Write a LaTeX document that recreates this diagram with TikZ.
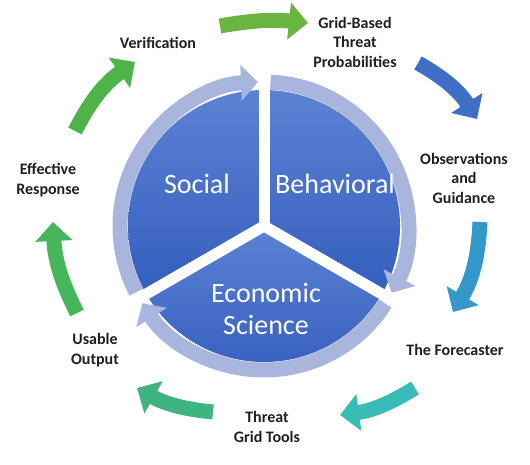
\documentclass[tikz,border=0pt]{standalone}
\usepackage{fontspec}
\setmainfont{Carlito}
\usepackage{xcolor}
\usetikzlibrary{arrows.meta,positioning,calc}

\definecolor{ringblue}{RGB}{168,182,222}
\definecolor{sectop}{RGB}{92,130,212}
\definecolor{secbot}{RGB}{52,94,190}
\definecolor{cycA}{RGB}{106,180,66}
\definecolor{cycB}{RGB}{62,110,198}
\definecolor{cycC}{RGB}{52,152,202}
\definecolor{cycD}{RGB}{58,188,182}
\definecolor{cycE}{RGB}{62,180,128}
\definecolor{cycF}{RGB}{70,182,92}
\definecolor{cycG}{RGB}{78,180,74}

\begin{document}
\begin{tikzpicture}[x=1pt,y=1pt, every node/.style={align=center},
  steplabel/.style={font=\bfseries\fontsize{16}{19.5}\selectfont, text=black!88},
  sectorlabel/.style={font=\fontsize{28}{32}\selectfont, text=white},
  cyclearrow/.style={line width=15pt, -{Triangle[width=36pt,length=19pt]}, bend left=#1},
  ringarrow/.style={line width=15pt, ringblue, -{Triangle[width=35pt,length=17pt]}},
  gapline/.style={white, line width=11pt}]
  \useasboundingbox (0,0) rectangle (530,-465);

  % centre wheel
  \coordinate (c) at (264,-226);
  \foreach \a in {90,210,330}
    \shade[top color=sectop, bottom color=secbot] (c) -- ++(\a:136)
      arc[start angle=\a, delta angle=120, radius=136] -- cycle;
  \foreach \a in {90,210,330}
    \draw[gapline] (c) -- ++(\a:158);
  \foreach \a in {90,210,330}
    \draw[ringarrow] ($(c)+(\a-2.6:144)$)
      arc[start angle=\a-2.6, end angle=\a-117.6, radius=144];

  \node[sectorlabel] (soc) at (197,-184) {Social};
  \node[sectorlabel] (beh) at (335,-184) {Behavioral};
  \node[sectorlabel] (eco) at (266,-309) {Economic\\Science};

  % outer cycle
  \node[steplabel] (ver) at (158,-43) {Verification};
  \node[steplabel] (grid) at (355,-42) {Grid-Based\\Threat\\Probabilities};
  \node[steplabel] (obs) at (464,-178) {Observations\\and\\Guidance};
  \node[steplabel] (fore) at (455,-350) {The Forecaster};
  \node[steplabel] (tools) at (267,-427) {Threat\\Grid Tools};
  \node[steplabel] (usable) at (95,-350) {Usable\\Output};
  \node[steplabel] (eff) at (48,-180) {Effective\\Response};

  \coordinate (t1) at (220,-26);  \coordinate (h1) at (308,-23);
  \coordinate (t2) at (418,-63);  \coordinate (h2) at (477,-119);
  \coordinate (t3) at (480,-222); \coordinate (h3) at (453,-312);
  \coordinate (t4) at (415,-388); \coordinate (h4) at (340,-415);
  \coordinate (t5) at (213,-412); \coordinate (h5) at (137,-388);
  \coordinate (t6) at (77,-313);  \coordinate (h6) at (53,-222);
  \coordinate (t7) at (75,-131);  \coordinate (h7) at (135,-62);

  \draw[cyclearrow=8, cycA] (t1) to (h1);
  \draw[cyclearrow=14, cycB] (t2) to (h2);
  \draw[cyclearrow=14, cycC] (t3) to (h3);
  \draw[cyclearrow=12, cycD] (t4) to (h4);
  \draw[cyclearrow=12, cycE] (t5) to (h5);
  \draw[cyclearrow=12, cycF] (t6) to (h6);
  \draw[cyclearrow=14, cycG] (t7) to (h7);
\end{tikzpicture}
\end{document}
